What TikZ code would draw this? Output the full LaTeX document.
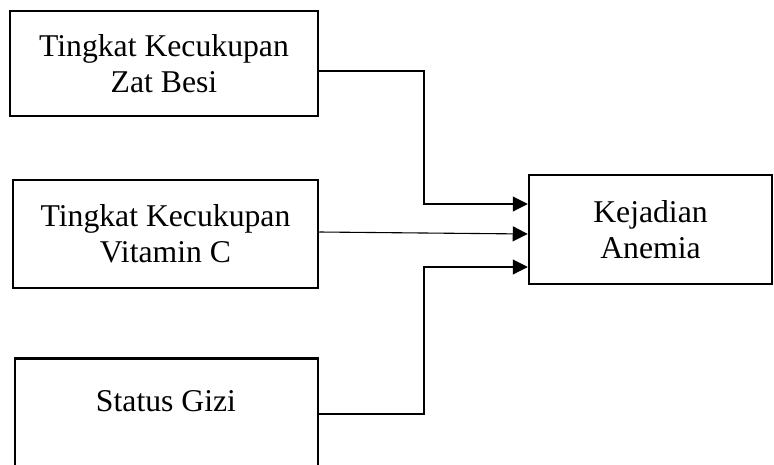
\documentclass[tikz,border=0pt]{standalone}
\usepackage{fontspec}
\setmainfont{Liberation Serif}
\usetikzlibrary{arrows.meta}
\begin{document}
\begin{tikzpicture}[x=1pt,y=-1pt,
  boxtext/.style={font=\fontsize{31.7}{36}\selectfont},
  box/.style={draw, line width=2.5pt, inner sep=0pt, align=center, boxtext},
  link/.style={line width=1.1pt, -{Triangle[length=15pt,width=15pt]}}]
\useasboundingbox (0,0) rectangle (774,464);
\clip (0,0) rectangle (774,464);

% factor boxes
\node[box, minimum width=308pt, minimum height=105pt] (zat) at (164,63.5)
  {Tingkat Kecukupan\\Zat Besi};
\node[box, minimum width=305pt, minimum height=108pt] (vitc) at (165.5,234)
  {Tingkat Kecukupan\\Vitamin C};
\node[box, minimum width=303pt, minimum height=140pt, anchor=north] (gizi) at (166.5,357) {};
\node[boxtext, anchor=base, inner sep=0pt] (gizitext) at (166,411) {Status Gizi};

% outcome box
\node[box, minimum width=243pt, minimum height=109pt] (kej) at (650.5,229.5)
  {Kejadian\\Anemia};

% routing points
\coordinate (r1a) at (424,71);
\coordinate (r1b) at (424,204);
\coordinate (r2a) at (320,232);
\coordinate (r2b) at (529,234);
\coordinate (r3a) at (424,414);
\coordinate (r3b) at (424,267);

% connectors
\draw[link] (zat.east |- r1a) -- (r1a) -- (r1b) -- (kej.west |- r1b);
\draw[link] (vitc.east |- r2a) -- (kej.west |- r2b);
\draw[link] (gizi.east |- r3a) -- (r3a) -- (r3b) -- (kej.west |- r3b);
\end{tikzpicture}
\end{document}
